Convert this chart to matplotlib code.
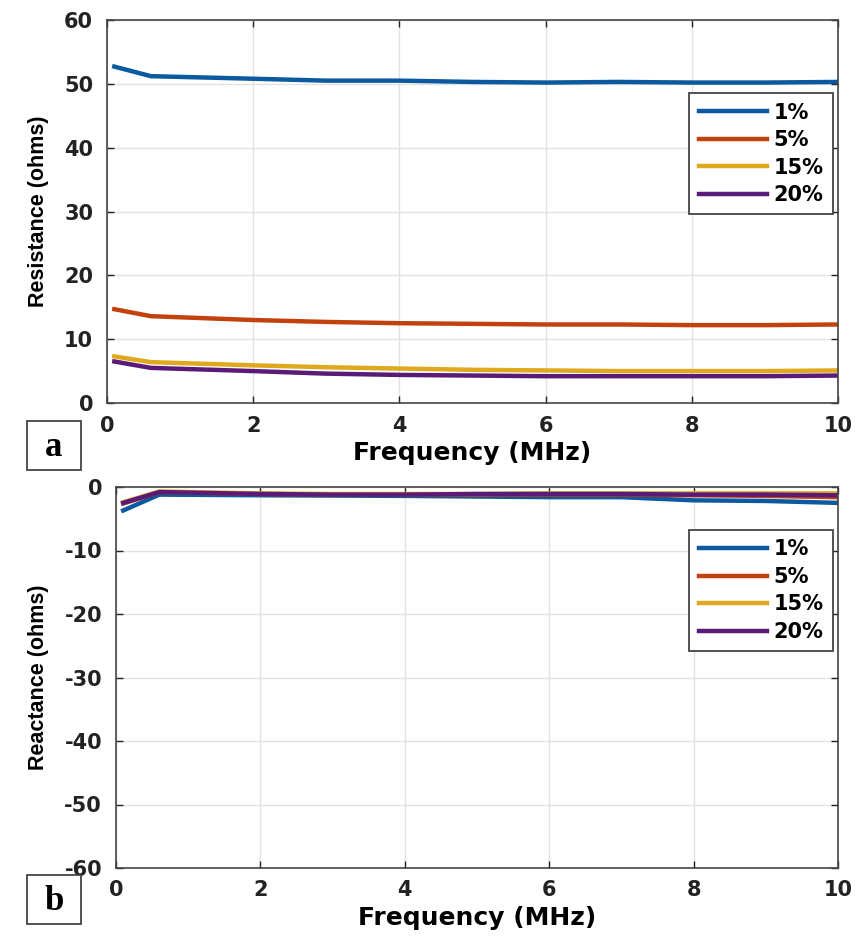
import matplotlib
matplotlib.use('Agg')
import matplotlib.pyplot as plt
from matplotlib.patches import Rectangle

plt.rcParams['font.family'] = ['DejaVu Sans']
plt.rcParams['font.weight'] = 'bold'
plt.rcParams['axes.unicode_minus'] = False

freq = [0.1, 0.6, 2, 3, 4, 5, 6, 7, 8, 9, 10]
labels = ['1%', '5%', '15%', '20%']
colors = ['#0b5aa0', '#c2410c', '#e0a81c', '#5a1a78']

resistance = [
    [52.7, 51.2, 50.8, 50.5, 50.5, 50.3, 50.2, 50.3, 50.2, 50.2, 50.3],
    [14.7, 13.6, 13.0, 12.7, 12.5, 12.4, 12.3, 12.3, 12.2, 12.2, 12.3],
    [7.3, 6.4, 5.9, 5.6, 5.4, 5.2, 5.1, 5.0, 5.0, 5.0, 5.1],
    [6.5, 5.5, 5.0, 4.6, 4.4, 4.3, 4.2, 4.2, 4.2, 4.2, 4.3],
]
reactance = [
    [-3.7, -1.2, -1.3, -1.35, -1.4, -1.5, -1.6, -1.6, -2.1, -2.2, -2.5],
    [-2.6, -0.8, -1.1, -1.2, -1.2, -1.2, -1.2, -1.2, -1.3, -1.4, -1.6],
    [-2.4, -0.7, -1.0, -1.1, -1.1, -1.1, -1.0, -1.0, -1.0, -1.0, -1.0],
    [-2.5, -0.8, -1.1, -1.2, -1.2, -1.1, -1.1, -1.1, -1.2, -1.2, -1.3],
]

W, H = 862, 942
fig = plt.figure(figsize=(W / 100, H / 100), dpi=100)
ax1 = fig.add_axes([107 / W, 1 - 403 / H, 731 / W, 383 / H])
ax2 = fig.add_axes([116 / W, 1 - 868 / H, 722 / W, 381 / H])


def style(ax, ylabel, ylim, yticks, legend_y):
    ax.set_xlim(0, 10)
    ax.set_ylim(*ylim)
    ax.set_xticks(range(0, 11, 2))
    ax.set_yticks(yticks)
    ax.grid(True, color='#e2e2e2', linewidth=1)
    ax.tick_params(labelsize=15, direction='in', length=5, width=1,
                   top=True, right=True, colors='#222222')
    ax.tick_params(axis='x', pad=9)
    ax.tick_params(axis='y', pad=10)
    ax.set_xlabel('Frequency (MHz)', fontsize=18, fontweight='bold', labelpad=4)
    ax.set_ylabel(ylabel, fontsize=15.5, fontweight='bold',
                  family='Liberation Sans', labelpad=11)
    for s in ax.spines.values():
        s.set_color('#444444')
        s.set_linewidth(1.2)
    leg = ax.legend(loc='upper right', bbox_to_anchor=(0.993, legend_y),
                    prop={'size': 15, 'weight': 'bold'}, handlelength=3.3,
                    labelspacing=0.36, fancybox=False, edgecolor='#444444',
                    borderpad=0.45, borderaxespad=0, handletextpad=0.3,
                    framealpha=1)
    leg.get_frame().set_linewidth(1.3)


for lab, c, r in zip(labels, colors, resistance):
    ax1.plot(freq, r, color=c, linewidth=3.2, label=lab)
style(ax1, 'Resistance (ohms)', (0, 60), range(0, 61, 10), 0.809)

for lab, c, x in zip(labels, colors, reactance):
    ax2.plot(freq, x, color=c, linewidth=3.2, label=lab)
style(ax2, 'Reactance (ohms)', (-60, 0), range(-60, 1, 10), 0.887)

# panel tags in boxes
for top, txt in [(421, 'a'), (875, 'b')]:
    fig.patches.append(Rectangle((27 / W, 1 - (top + 49) / H), 54 / W, 49 / H,
                                 transform=fig.transFigure, facecolor='white',
                                 edgecolor='#444444', linewidth=1.3))
    fig.text(54 / W, 1 - (top + 26) / H, txt, fontsize=25, fontweight='bold',
             family='Liberation Serif', ha='center', va='center')

fig.savefig('out.png', dpi=100)
